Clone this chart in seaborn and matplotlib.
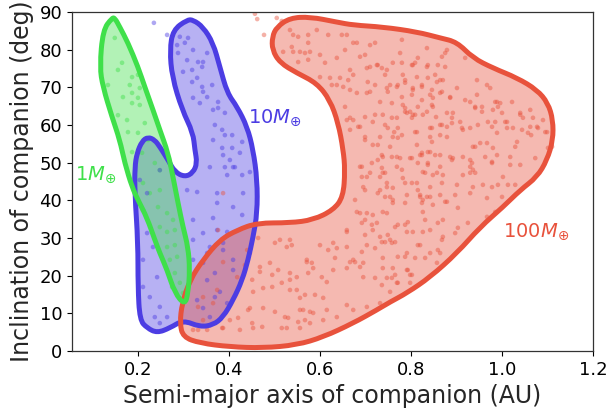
import numpy as np
import pandas as pd
import matplotlib
matplotlib.use("Agg")
import matplotlib.pyplot as plt
from matplotlib.path import Path
from matplotlib.patches import PathPatch
import seaborn as sns

# colours for the three companion masses
green = "#3fe04a"
blue = "#4c3de3"
red = "#e8523c"

# outlines of the density regions (semi-major axis AU, inclination deg)
green_edge_x = [0.143, 0.149, 0.160, 0.178, 0.200, 0.215, 0.233, 0.248, 0.266, 0.277, 0.288, 0.299,
                0.310, 0.314, 0.310, 0.303, 0.281, 0.264, 0.248, 0.237, 0.220, 0.200, 0.187, 0.171,
                0.160, 0.143, 0.123, 0.116, 0.123]
green_edge_y = [88.4, 88.4, 86.0, 81.8, 75.4, 70.1, 64.0, 58.7, 52.6, 46.2, 39.3, 32.9,
                27.6, 21.5, 15.4, 12.2, 15.4, 21.5, 26.0, 29.5, 35.3, 40.1, 43.5, 49.9,
                56.0, 62.1, 70.1, 75.4, 85.2]

blue_edge_x = [0.308, 0.321, 0.343, 0.365, 0.380, 0.396, 0.418, 0.440, 0.453, 0.462, 0.462, 0.453,
               0.442, 0.429, 0.409, 0.387, 0.365, 0.336, 0.299, 0.270, 0.242, 0.220, 0.204, 0.200,
               0.200, 0.193, 0.193, 0.198, 0.209, 0.222, 0.237, 0.248, 0.266, 0.281, 0.303, 0.321,
               0.330, 0.325, 0.321, 0.297, 0.275, 0.270, 0.277]
blue_edge_y = [87.9, 87.9, 86.0, 81.8, 75.4, 68.5, 64.8, 59.5, 53.4, 45.4, 36.6, 30.3,
               24.2, 18.8, 13.5, 9.0, 6.9, 6.4, 8.2, 6.1, 4.8, 6.1, 8.2, 17.0,
               28.7, 41.9, 48.8, 52.6, 55.7, 56.8, 56.0, 54.2, 50.7, 47.5, 46.2, 47.3,
               49.9, 53.4, 57.9, 64.0, 72.7, 79.9, 85.2]

red_edge_x = [0.505, 0.534, 0.578, 0.637, 0.673, 0.738, 0.813, 0.864, 0.901, 0.936, 0.980, 1.033,
              1.077, 1.101, 1.112, 1.112, 1.099, 1.077, 1.040, 1.002, 0.952, 0.901, 0.842, 0.791,
              0.754, 0.725, 0.673, 0.607, 0.549, 0.475, 0.402, 0.336, 0.299, 0.292, 0.297, 0.314,
              0.343, 0.380, 0.418, 0.462, 0.534, 0.585, 0.629, 0.651, 0.655, 0.651, 0.640, 0.622,
              0.593, 0.549, 0.512, 0.495, 0.495]
red_edge_y = [86.0, 88.4, 88.7, 87.3, 86.5, 86.0, 84.7, 83.1, 82.0, 77.8, 75.1, 72.5,
              69.3, 65.8, 61.3, 56.0, 50.7, 46.2, 42.7, 38.2, 32.9, 26.0, 19.6, 15.4,
              13.0, 10.9, 7.4, 3.7, 1.6, 0.8, 1.1, 2.1, 3.7, 7.4, 12.7, 18.8,
              24.2, 29.5, 32.1, 34.0, 34.0, 34.8, 37.4, 40.9, 48.0, 53.4, 60.5, 66.6,
              71.1, 73.8, 76.5, 79.9, 83.4]

# simulated companions
green_a = [0.149, 0.165, 0.156, 0.187, 0.200, 0.134, 0.182, 0.204, 0.167, 0.187, 0.200, 0.187,
           0.204, 0.156, 0.176, 0.215, 0.200, 0.178, 0.222, 0.187, 0.209, 0.237, 0.248, 0.211,
           0.226, 0.248, 0.244, 0.264, 0.277, 0.248, 0.264, 0.281, 0.264, 0.281, 0.270, 0.286,
           0.281, 0.292, 0.299, 0.275]
green_i = [83.1, 76.5, 74.6, 72.7, 73.3, 70.6, 70.6, 69.8, 67.4, 68.5, 67.2, 65.8,
           65.3, 62.6, 61.3, 60.5, 57.9, 58.1, 56.0, 52.8, 52.6, 49.9, 48.0, 44.6,
           41.9, 42.7, 38.2, 36.6, 34.8, 32.9, 31.6, 32.1, 27.6, 28.1, 24.2, 25.0,
           20.7, 18.1, 15.4, 17.0]

blue_a = [0.235, 0.264, 0.292, 0.310, 0.286, 0.303, 0.321, 0.288, 0.352, 0.308, 0.332, 0.343,
          0.341, 0.299, 0.319, 0.330, 0.363, 0.341, 0.319, 0.343, 0.352, 0.321, 0.336, 0.376,
          0.365, 0.376, 0.391, 0.369, 0.385, 0.391, 0.407, 0.365, 0.429, 0.385, 0.407, 0.424,
          0.387, 0.402, 0.358, 0.391, 0.413, 0.308, 0.330, 0.374, 0.396, 0.409, 0.429, 0.446,
          0.431, 0.374, 0.409, 0.429, 0.321, 0.365, 0.343, 0.374, 0.396, 0.321, 0.358, 0.387,
          0.321, 0.343, 0.211, 0.242, 0.226, 0.248, 0.237, 0.264, 0.248, 0.220, 0.211, 0.220,
          0.211, 0.233, 0.204, 0.248, 0.352, 0.387, 0.409, 0.369, 0.352, 0.380, 0.369, 0.330,
          0.396, 0.343, 0.358, 0.409]
blue_i = [87.1, 83.9, 83.4, 83.1, 81.2, 81.8, 79.9, 79.1, 79.1, 77.2, 76.7, 76.7,
          75.4, 74.1, 74.6, 72.5, 70.6, 70.1, 71.4, 68.8, 67.4, 67.2, 65.8, 66.1,
          64.0, 64.5, 63.2, 60.0, 58.7, 57.3, 57.3, 56.0, 55.5, 53.9, 53.9, 52.6,
          52.0, 50.7, 48.8, 48.8, 48.8, 42.7, 42.2, 41.9, 46.7, 48.8, 46.7, 47.5,
          41.9, 39.3, 38.2, 36.1, 34.8, 35.3, 31.3, 32.1, 31.6, 29.5, 27.6, 28.7,
          24.2, 23.4, 17.0, 19.6, 14.3, 11.7, 9.0, 9.0, 7.4, 41.9, 37.4, 31.3,
          24.2, 27.6, 45.4, 48.0, 26.0, 26.8, 21.5, 20.7, 18.8, 15.7, 14.3, 13.5,
          12.7, 11.4, 9.0, 24.2]

red_a = [0.457, 0.462, 0.505, 0.516, 0.477, 0.534, 0.541, 0.552, 0.574, 0.593, 0.618, 0.648,
         0.659, 0.538, 0.574, 0.556, 0.567, 0.578, 0.519, 0.541, 0.552, 0.574, 0.600, 0.611,
         0.637, 0.655, 0.673, 0.681, 0.699, 0.710, 0.721, 0.688, 0.703, 0.725, 0.736, 0.747,
         0.743, 0.776, 0.780, 0.809, 0.815, 0.835, 0.868, 0.879, 0.853, 0.870, 0.600, 0.622,
         0.644, 0.626, 0.662, 0.666, 0.681, 0.705, 0.710, 0.721, 0.747, 0.769, 0.787, 0.804,
         0.824, 0.846, 0.864, 0.655, 0.666, 0.684, 0.699, 0.721, 0.738, 0.758, 0.743, 0.749,
         0.771, 0.791, 0.804, 0.826, 0.842, 0.864, 0.879, 0.699, 0.732, 0.760, 0.780, 0.813,
         0.846, 0.727, 0.738, 0.769, 0.802, 0.824, 0.842, 0.692, 0.714, 0.738, 0.769, 0.826,
         0.857, 0.870,
         0.835, 0.875, 0.919, 0.802, 0.837, 0.859, 0.782, 0.813, 0.837, 0.857, 0.787, 0.945,
         0.967, 0.974, 0.824, 0.901, 0.868, 0.802, 0.848, 0.886, 0.919, 0.945, 0.989, 1.022,
         0.782, 0.815, 0.846, 0.941, 0.956, 0.991, 0.787, 0.835, 0.879, 1.062, 1.040, 0.802,
         0.890, 0.969, 0.985, 1.011, 1.046, 1.068, 1.090, 0.868, 0.890, 0.912, 0.930, 0.947,
         0.978, 1.024, 1.044, 1.057, 1.077, 1.095, 0.864, 0.879, 0.952, 0.967, 0.941, 1.033,
         1.029, 1.110, 0.824, 0.853, 0.886, 0.914, 0.930, 0.963, 0.989, 1.018, 1.073, 0.815,
         0.837, 0.890, 0.930, 0.978, 1.018, 1.040, 0.831, 0.914, 0.941, 1.002,
         0.782, 0.802, 0.842, 0.868, 0.901, 0.930, 0.936, 0.958, 0.978, 0.991, 1.013, 1.029,
         0.747, 0.754, 0.791, 0.820, 0.835, 0.864, 0.897, 0.930, 0.967, 1.000, 0.787, 0.826,
         0.848, 0.879, 0.903, 0.738, 0.826, 0.870, 0.925, 0.967, 0.985, 0.765, 0.787, 0.791,
         0.826, 0.859, 0.903, 0.897, 0.870, 0.820, 0.842, 0.864, 0.743, 0.754, 0.765, 0.787,
         0.738, 0.809, 0.831, 0.857, 0.760, 0.791, 0.802, 0.758, 0.771, 0.736, 0.754,
         0.692, 0.710, 0.732, 0.743, 0.695, 0.787, 0.813, 0.760, 0.815, 0.727, 0.743, 0.760,
         0.820, 0.842, 0.824, 0.875, 0.681, 0.703, 0.692, 0.714, 0.725, 0.771, 0.793, 0.831,
         0.804, 0.659, 0.699, 0.749, 0.842, 0.868, 0.736, 0.758, 0.815, 0.637, 0.659, 0.692,
         0.721, 0.791, 0.859, 0.633, 0.666, 0.677, 0.695, 0.771, 0.659, 0.688, 0.738, 0.793,
         0.629, 0.765, 0.798, 0.695, 0.721, 0.747, 0.798, 0.769,
         0.501, 0.512, 0.534, 0.538, 0.527, 0.490, 0.468, 0.468, 0.495, 0.508, 0.534, 0.534,
         0.549, 0.571, 0.582, 0.585, 0.574, 0.453, 0.475, 0.495, 0.516, 0.534, 0.549, 0.556,
         0.567, 0.589, 0.446, 0.442, 0.475, 0.501, 0.523, 0.530, 0.563, 0.578, 0.567, 0.556,
         0.516, 0.527, 0.473, 0.453, 0.424, 0.420, 0.402, 0.385, 0.451, 0.435, 0.446, 0.440,
         0.464, 0.418, 0.387, 0.374, 0.365, 0.343, 0.332, 0.343, 0.332, 0.604, 0.607, 0.615,
         0.321, 0.352, 0.387, 0.451, 0.552, 0.578, 0.607, 0.637, 0.673, 0.703, 0.732, 0.556,
         0.585, 0.615, 0.659, 0.571, 0.600, 0.618, 0.629, 0.659, 0.673, 0.703, 0.716, 0.732,
         0.688, 0.699, 0.716, 0.747, 0.760, 0.677, 0.699, 0.732, 0.747, 0.703, 0.387, 0.376,
         0.666, 0.673, 0.651, 0.637, 0.710, 0.727, 0.760, 0.780, 0.804, 0.875, 0.754, 0.771,
         0.864, 0.703, 0.749, 0.780, 0.804, 0.842, 0.732, 0.758, 0.787, 0.798, 0.824, 0.848,
         0.659, 0.673, 0.769, 0.809, 0.855, 0.716, 0.666, 0.688, 0.763, 0.809, 0.846, 0.699,
         0.771, 0.842, 0.716, 0.754, 0.813, 0.736, 0.758, 0.776, 0.798, 0.820, 0.837, 0.864,
         0.727, 0.688, 0.736, 0.780, 0.837, 0.864, 0.848,
         0.886, 0.930, 0.985, 0.996, 0.941, 0.956, 0.980, 1.000, 1.040, 0.892, 0.908, 1.007,
         0.914, 0.989, 1.011, 1.062, 1.079, 1.064, 1.099, 0.936, 0.980, 1.101, 0.892, 0.978,
         0.934, 0.936]
red_i = [89.5, 88.1, 88.4, 87.6, 83.9, 85.2, 83.9, 83.4, 83.9, 85.2, 83.9, 83.9,
         83.9, 80.7, 81.8, 79.4, 79.1, 79.4, 79.4, 79.4, 76.7, 77.3, 78.6, 76.5,
         77.8, 79.9, 81.8, 81.8, 78.6, 81.2, 81.8, 78.1, 75.1, 75.9, 75.1, 74.6,
         73.3, 79.1, 82.6, 76.5, 77.8, 75.4, 78.1, 79.9, 73.3, 71.9, 72.7, 72.5,
         72.5, 70.6, 71.9, 69.3, 68.5, 71.4, 68.8, 70.6, 69.8, 70.1, 71.2, 69.8,
         70.1, 69.3, 68.5, 64.8, 61.9, 59.5, 62.1, 62.7, 62.7, 61.9, 60.0, 59.2,
         59.2, 63.2, 62.7, 62.7, 59.2, 60.0, 59.5, 56.8, 56.8, 56.8, 57.3, 58.1,
         55.5, 54.7, 51.5, 51.5, 51.2, 52.6, 52.8, 48.9, 49.9, 47.3, 48.9, 47.5,
         47.3, 46.7,
         80.4, 79.1, 77.8, 75.9, 75.9, 75.9, 73.3, 72.7, 72.5, 71.4, 71.9, 71.9,
         70.6, 69.8, 70.6, 69.8, 68.8, 68.0, 67.2, 67.2, 66.6, 68.0, 66.1, 66.1,
         65.3, 64.8, 65.3, 64.8, 64.8, 64.8, 63.5, 63.5, 63.2, 64.0, 62.7, 61.9,
         61.9, 60.8, 60.8, 60.8, 61.9, 61.9, 61.3, 60.0, 60.5, 59.2, 59.2, 60.0,
         59.5, 59.2, 58.7, 57.9, 59.5, 58.1, 57.3, 56.8, 55.2, 55.2, 54.2, 55.5,
         54.2, 54.2, 52.0, 52.0, 51.5, 51.5, 50.7, 51.5, 52.0, 51.5, 51.2, 49.9,
         49.4, 50.7, 48.9, 49.9, 49.4, 49.4, 47.3, 46.7, 47.3, 46.2,
         45.9, 44.6, 43.5, 44.6, 44.1, 47.3, 43.5, 44.1, 43.5, 44.1, 44.1, 44.1,
         43.5, 40.9, 41.4, 41.4, 40.9, 41.4, 41.4, 41.9, 40.6, 40.9, 39.3, 40.1,
         38.8, 39.6, 38.0, 36.9, 36.9, 34.8, 34.0, 35.6, 36.9, 32.9, 33.5, 31.6,
         31.6, 34.0, 32.7, 31.3, 30.3, 28.1, 26.0, 26.0, 28.9, 29.5, 28.9, 25.0,
         24.7, 24.7, 24.7, 23.4, 22.0, 21.5, 20.2, 19.4, 18.1, 17.5, 15.7,
         46.2, 47.3, 46.2, 47.3, 43.5, 44.6, 44.6, 43.3, 42.7, 41.9, 40.9, 40.1,
         40.9, 40.9, 39.3, 39.6, 36.9, 36.6, 34.0, 33.5, 34.0, 33.5, 34.2, 34.8,
         31.6, 32.1, 30.8, 30.8, 32.1, 29.5, 28.9, 28.7, 28.1, 27.3, 27.6, 26.3,
         27.3, 26.0, 26.8, 24.7, 23.6, 23.6, 23.4, 25.0, 22.0, 22.3, 22.0, 21.5,
         21.5, 20.2, 20.2, 19.6, 19.4, 19.4, 18.1, 18.1,
         28.7, 29.5, 29.5, 28.1, 27.6, 23.4, 22.3, 21.0, 20.2, 21.5, 20.7, 18.9,
         19.6, 23.6, 23.4, 22.0, 20.7, 15.7, 16.7, 17.0, 18.1, 16.2, 16.2, 14.1,
         14.9, 14.9, 11.4, 10.9, 11.4, 10.4, 9.0, 8.8, 10.9, 10.4, 8.2, 6.1,
         6.1, 6.1, 6.4, 6.1, 5.6, 8.8, 8.2, 6.1, 18.9, 22.8, 26.0, 26.8,
         30.0, 19.6, 23.6, 16.2, 12.7, 14.3, 11.7, 8.2, 5.6, 19.6, 14.1, 18.3,
         5.6, 5.6, 6.1, 7.4, 7.7, 7.4, 8.2, 9.0, 10.9, 11.7, 12.7, 10.9,
         10.1, 10.9, 12.2, 24.2, 28.1, 26.8, 28.7, 31.6, 24.2, 28.1, 32.1, 30.3,
         36.6, 34.8, 36.1, 36.6, 39.3, 40.1, 42.7, 42.7, 44.6, 46.2, 41.9, 32.1,
         74.6, 73.3, 70.1, 70.6, 75.4, 75.9, 76.5, 76.5, 75.9, 75.4, 70.6, 70.6,
         71.9, 68.5, 68.8, 67.4, 69.3, 68.0, 66.1, 65.8, 64.5, 63.5, 66.6, 64.8,
         61.3, 61.3, 61.9, 62.7, 62.1, 60.8, 58.7, 59.5, 58.1, 58.1, 59.2, 56.0,
         56.6, 56.8, 54.7, 54.2, 54.7, 52.0, 51.5, 51.2, 51.2, 52.0, 52.8, 52.0,
         50.7, 48.9, 48.6, 48.1, 49.9, 48.9, 46.7,
         67.4, 66.1, 66.1, 65.8, 64.5, 63.5, 64.0, 63.2, 63.2, 63.2, 60.8, 60.8,
         58.7, 57.9, 59.2, 59.5, 59.2, 57.3, 58.1, 54.2, 53.9, 53.9, 51.2, 50.2,
         49.9, 48.1]

labels = [r"$1M_{\oplus}$", r"$10M_{\oplus}$", r"$100M_{\oplus}$"]

points = pd.DataFrame({
    "a": green_a + blue_a + red_a,
    "inc": green_i + blue_i + red_i,
    "mass": [labels[0]] * len(green_a) + [labels[1]] * len(blue_a) + [labels[2]] * len(red_a),
})


def smooth_outline(xs, ys):
    # closed quadratic b-spline through the midpoints of the outline
    p = np.column_stack([xs, ys])
    mids = (p + np.roll(p, -1, axis=0)) / 2
    verts = [mids[-1]]
    codes = [Path.MOVETO]
    for i in range(len(p)):
        verts += [p[i], mids[i]]
        codes += [Path.CURVE3, Path.CURVE3]
    verts.append(mids[-1])
    codes.append(Path.CLOSEPOLY)
    return Path(verts, codes)


sns.set_style("ticks")
plt.rcParams["font.family"] = ["DejaVu Sans"]

fig = plt.figure(figsize=(6.07, 4.11), dpi=100)
ax = fig.add_axes([0.1186, 0.146, 0.8584, 0.825])

regions = [(blue_edge_x, blue_edge_y, blue),
           (red_edge_x, red_edge_y, red),
           (green_edge_x, green_edge_y, green)]

# filled regions first, then points, then the thick outlines
for ex, ey, c in regions:
    ax.add_patch(PathPatch(smooth_outline(ex, ey), facecolor=c, alpha=0.4,
                           edgecolor="none", zorder=1))

sns.scatterplot(data=points, x="a", y="inc", hue="mass",
                palette={labels[0]: green, labels[1]: blue, labels[2]: red},
                s=11, alpha=0.45, linewidth=0, legend=False, ax=ax, zorder=2)

for ex, ey, c in regions:
    ax.add_patch(PathPatch(smooth_outline(ex, ey), facecolor="none", edgecolor=c,
                           lw=3.6, joinstyle="round", zorder=3))

ax.text(0.062, 46.7, labels[0], color=green, fontsize=14, va="center")
ax.text(0.442, 61.9, labels[1], color=blue, fontsize=14, va="center")
ax.text(1.002, 31.6, labels[2], color=red, fontsize=14, va="center")

ax.set_xlim(0.055, 1.2)
ax.set_ylim(0, 90)
ax.set_xticks([0.2, 0.4, 0.6, 0.8, 1.0, 1.2])
ax.set_yticks(range(0, 91, 10))
ax.tick_params(labelsize=13, colors="black")
for sp in ax.spines.values():
    sp.set_color("#333333")
    sp.set_linewidth(0.9)

ax.set_xlabel("Semi-major axis of companion (AU)", fontsize=17)
ax.set_ylabel("Inclination of companion (deg)", fontsize=17)

fig.savefig("out.png", dpi=100)
